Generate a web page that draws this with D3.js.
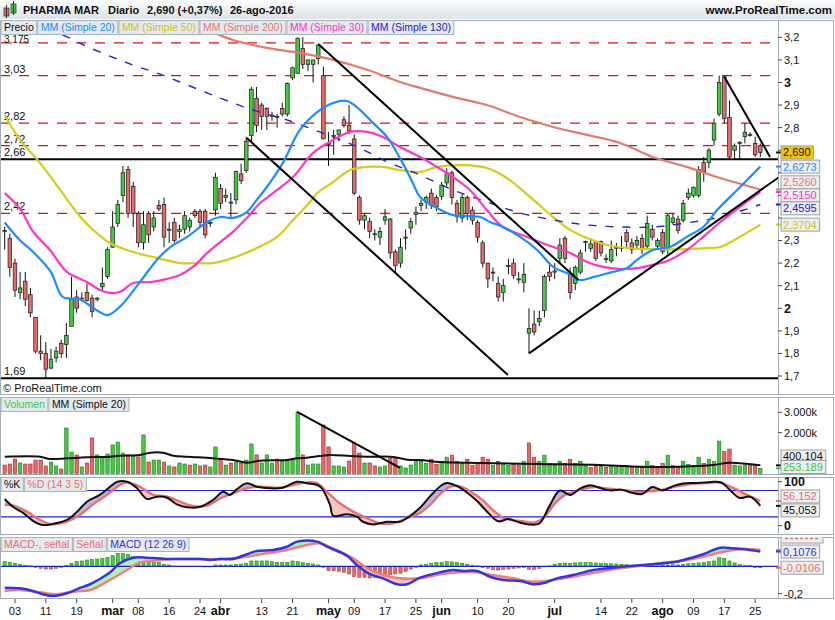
<!DOCTYPE html>
<html>
<head>
<meta charset="utf-8">
<script src="https://cdn.jsdelivr.net/npm/d3@7"></script>
<style>
  body { margin: 0; background: #fff; }
  svg { display: block; font-family: "Liberation Sans", Arial, sans-serif; }
</style>
</head>
<body>
<svg id="chart" width="835" height="620"></svg>
<script>
// ---- Datos (PHARMA MAR, diario, 01-feb-2016 .. 26-ago-2016) ----
const holidays = ["2016-03-25", "2016-03-28"];

const open = [2.345,2.31,2.20,2.07,2.12,2.06,1.96,1.81,1.80,1.735,
  1.78,1.845,1.84,1.92,2.05,2.045,2.07,2.045,2.04,2.095,
  2.14,2.27,2.375,2.50,2.615,2.54,2.42,2.29,2.42,2.36,
  2.455,2.46,2.35,2.38,2.34,2.35,2.36,2.43,2.43,2.43,
  2.38,2.435,2.53,2.49,2.47,2.48,2.595,2.61,2.765,2.93,
  2.90,2.885,2.855,2.85,2.885,2.86,3.02,3.04,3.15,3.08,
  3.08,3.105,3.03,2.73,2.765,2.77,2.835,2.81,2.75,2.49,
  2.39,2.385,2.33,2.315,2.39,2.395,2.25,2.20,2.315,2.355,
  2.415,2.455,2.47,2.51,2.49,2.495,2.555,2.60,2.465,2.40,
  2.49,2.435,2.38,2.29,2.20,2.16,2.11,2.07,2.19,2.20,
  2.13,2.115,1.89,1.93,1.94,1.99,2.16,2.16,2.22,2.31,
  2.155,2.11,2.16,2.295,2.265,2.295,2.295,2.22,2.21,2.27,
  2.27,2.335,2.29,2.28,2.31,2.275,2.35,2.275,2.335,2.26,
  2.38,2.395,2.39,2.49,2.50,2.50,2.645,2.645,2.745,2.86,
  3.025,2.845,2.70,2.73,2.76,2.77,2.73,2.72];
const high = [2.36,2.33,2.22,2.16,2.16,2.09,1.96,1.88,1.85,1.82,
  1.83,1.86,1.935,2.14,2.08,2.07,2.11,2.06,2.05,2.18,
  2.27,2.43,2.48,2.63,2.63,2.56,2.43,2.43,2.43,2.43,
  2.48,2.49,2.38,2.40,2.37,2.43,2.40,2.44,2.44,2.44,
  2.39,2.60,2.55,2.53,2.51,2.61,2.64,2.76,2.98,2.98,
  2.91,2.89,2.87,2.86,2.91,3.00,3.07,3.20,3.20,3.10,
  3.10,3.17,3.07,2.78,2.79,2.79,2.85,2.90,2.77,2.50,
  2.42,2.40,2.35,2.36,2.44,2.40,2.26,2.31,2.35,2.40,
  2.45,2.48,2.50,2.53,2.50,2.56,2.62,2.61,2.48,2.51,
  2.50,2.45,2.39,2.30,2.20,2.18,2.14,2.13,2.22,2.22,
  2.16,2.20,2.00,1.99,1.99,2.15,2.19,2.20,2.31,2.32,
  2.18,2.19,2.26,2.30,2.31,2.30,2.30,2.24,2.30,2.29,
  2.32,2.35,2.31,2.32,2.33,2.41,2.37,2.31,2.35,2.42,
  2.42,2.41,2.48,2.53,2.54,2.63,2.67,2.71,2.84,3.03,
  3.03,2.92,2.73,2.74,2.82,2.78,2.76,2.73];
const low = [2.26,2.14,2.05,2.04,2.01,1.96,1.80,1.77,1.69,1.73,
  1.76,1.78,1.78,1.92,1.98,2.03,2.03,1.96,2.03,2.08,
  2.13,2.27,2.36,2.47,2.40,2.36,2.27,2.26,2.29,2.34,
  2.43,2.27,2.29,2.29,2.31,2.33,2.34,2.40,2.36,2.31,
  2.36,2.41,2.44,2.47,2.40,2.46,2.55,2.60,2.74,2.78,
  2.79,2.79,2.83,2.80,2.85,2.85,3.01,3.04,3.06,3.05,
  3.00,3.08,2.75,2.63,2.68,2.74,2.80,2.77,2.50,2.37,
  2.35,2.31,2.30,2.28,2.37,2.22,2.16,2.18,2.26,2.33,
  2.37,2.43,2.44,2.44,2.43,2.48,2.54,2.46,2.38,2.38,
  2.39,2.37,2.29,2.18,2.09,2.12,2.03,2.03,2.15,2.13,
  2.11,2.07,1.80,1.88,1.92,1.96,2.12,2.13,2.20,2.20,
  2.04,2.08,2.15,2.25,2.25,2.21,2.23,2.20,2.20,2.23,
  2.25,2.27,2.24,2.26,2.24,2.26,2.30,2.26,2.24,2.24,
  2.37,2.33,2.38,2.48,2.49,2.49,2.56,2.62,2.72,2.85,
  2.82,2.66,2.66,2.66,2.73,2.76,2.67,2.67];
const close = [2.34,2.18,2.08,2.09,2.04,1.98,1.81,1.80,1.73,1.775,
  1.81,1.80,1.88,2.04,2.00,2.04,2.035,1.985,2.045,2.11,
  2.26,2.36,2.46,2.60,2.42,2.42,2.29,2.37,2.325,2.40,
  2.44,2.315,2.35,2.30,2.35,2.41,2.39,2.41,2.38,2.325,
  2.38,2.58,2.465,2.50,2.47,2.605,2.565,2.74,2.97,2.81,
  2.85,2.85,2.855,2.847,2.86,2.995,3.065,3.195,3.08,3.10,
  3.10,3.165,2.75,2.73,2.765,2.79,2.81,2.785,2.51,2.39,
  2.41,2.34,2.33,2.34,2.405,2.245,2.19,2.27,2.315,2.385,
  2.425,2.465,2.49,2.455,2.45,2.545,2.60,2.49,2.405,2.49,
  2.42,2.39,2.315,2.20,2.13,2.16,2.05,2.10,2.185,2.145,
  2.13,2.15,1.91,1.895,1.955,2.14,2.14,2.165,2.28,2.22,
  2.07,2.18,2.245,2.295,2.285,2.22,2.245,2.22,2.26,2.27,
  2.27,2.295,2.26,2.30,2.26,2.375,2.315,2.30,2.25,2.41,
  2.40,2.345,2.465,2.51,2.535,2.615,2.605,2.70,2.82,3.00,
  2.84,2.67,2.72,2.735,2.78,2.77,2.68,2.69];
// volumen en miles
const volume = [415,465,710,515,465,465,660,660,370,560,
  370,220,2230,1050,910,320,515,1740,910,810,
  955,1400,1540,1000,910,860,810,1890,560,660,
  660,560,370,320,515,465,415,465,370,415,
  320,1300,710,415,515,560,515,660,1450,910,
  515,910,515,710,610,660,660,3010,910,415,
  465,465,2380,1300,370,370,320,610,1500,1000,
  515,515,370,320,370,760,810,370,270,415,
  610,600,500,700,450,600,800,900,600,500,
  700,400,500,800,700,400,600,500,400,500,
  400,600,1500,800,600,900,500,400,600,500,
  700,500,600,400,300,400,350,300,400,300,
  350,400,300,300,350,600,400,300,500,900,
  400,350,600,450,400,800,500,700,580,1590,
  1070,1200,415,370,415,415,415,253.189];
const macdHist = [0.034,0.029,0.022,0.015,0.008,0.003,-0.008,-0.015,-0.02,-0.02,
  -0.015,-0.008,0.005,0.022,0.034,0.039,0.046,0.05,0.053,0.058,
  0.066,0.078,0.095,0.095,0.088,0.07,0.058,0.053,0.046,0.039,
  0.029,0.015,0.01,0.002,0.001,0.001,0.001,0.001,0.001,-0.005,
  -0.005,0.01,0.01,0.01,0.01,0.015,0.017,0.022,0.039,0.039,
  0.039,0.039,0.034,0.029,0.027,0.029,0.039,0.034,0.027,0.022,
  0.017,0.01,-0.008,-0.032,-0.032,-0.037,-0.044,-0.056,-0.075,-0.08,
  -0.08,-0.085,-0.08,-0.075,-0.061,-0.061,-0.056,-0.051,-0.037,-0.02,
  -0.008,0.01,0.015,0.02,0.027,0.029,0.034,0.032,0.027,0.022,
  0.015,0.008,0.003,-0.01,-0.015,-0.025,-0.027,-0.022,-0.02,-0.015,
  -0.012,-0.01,-0.022,-0.025,-0.015,-0.005,0.003,0.015,0.022,0.024,
  0.022,0.025,0.027,0.029,0.027,0.024,0.022,0.02,0.018,0.017,
  0.015,0.012,0.008,0.004,0.002,0.005,0.005,0.003,0.005,0.01,
  0.012,0.01,0.015,0.018,0.022,0.025,0.027,0.034,0.039,0.063,
  0.058,0.039,0.025,0.012,0.005,0.005,-0.01,-0.0106];

// medias móviles: [índice de sesión, valor]
const ma20 = [[0,2.38],[3,2.30],[5.5,2.25],[9,2.16],[11.3,2.05],[14.6,2.04],[17.3,2.0],[20,1.97],[22.4,2.006],
  [26.3,2.116],[29.6,2.214],[32.2,2.271],[35.5,2.316],[39.4,2.382],[41.9,2.404],[44.4,2.40],[47.1,2.426],
  [49,2.479],[51,2.537],[54.1,2.643],[57.4,2.789],[60.8,2.869],[63.9,2.909],[66.6,2.918],[68.5,2.891],
  [71.7,2.82],[74.4,2.758],[76.9,2.665],[79.4,2.555],[80.8,2.493],[84.1,2.444],[87.2,2.413],[92.5,2.404],
  [94.4,2.382],[97,2.36],[100.3,2.316],[103.6,2.258],[106.7,2.183],[109.4,2.156],[111.9,2.125],[114.5,2.138],
  [118.3,2.161],[121.1,2.178],[123,2.214],[126.1,2.258],[129.4,2.271],[132.7,2.316],[135.9,2.36],
  [138.6,2.435],[142.5,2.524],[147,2.6273]];
const ma30 = [[0,2.51],[3,2.44],[5.5,2.34],[8.8,2.258],[12.1,2.161],[16,2.116],[18.5,2.081],[20.5,2.068],
  [22.4,2.072],[25,2.112],[28.3,2.116],[31.6,2.13],[34.1,2.147],[36.6,2.183],[39.4,2.245],[41.9,2.293],
  [44.4,2.338],[47.1,2.40],[49.7,2.466],[52.2,2.51],[56.1,2.581],[60,2.688],[63.9,2.745],[67.2,2.781],
  [70.5,2.781],[73.6,2.758],[76.9,2.714],[80.8,2.67],[84.1,2.626],[87.2,2.581],[90.5,2.524],[93.8,2.435],
  [96.9,2.36],[101.6,2.316],[106.7,2.271],[110,2.245],[113.3,2.205],[116.4,2.183],[119.7,2.174],
  [123,2.178],[126.1,2.192],[129.4,2.214],[132.7,2.258],[135.9,2.316],[139.2,2.382],[143,2.448],[147,2.515]];
const ma50 = [[0,2.856],[3,2.745],[6.9,2.643],[10.8,2.524],[14.1,2.422],[16.6,2.36],[20.5,2.289],[25,2.249],
  [29.6,2.223],[34.1,2.20],[38,2.20],[40.5,2.20],[44.4,2.223],[49.1,2.267],[53,2.316],[56.1,2.391],
  [59.4,2.471],[60.8,2.51],[63.9,2.559],[67.2,2.612],[70.5,2.626],[73.6,2.626],[76.9,2.612],[80.8,2.603],
  [84.1,2.626],[89.2,2.634],[93.8,2.621],[97.7,2.577],[102.2,2.493],[106.7,2.404],[110,2.347],[113.3,2.311],
  [117.2,2.28],[121.1,2.267],[126.1,2.262],[132.7,2.262],[137.2,2.267],[139.2,2.271],[143,2.316],[147,2.3704]];
const ma200 = [[10,3.36],[25,3.29],[40.5,3.219],[44.4,3.188],[51,3.153],[57.4,3.131],[63.9,3.10],[70.5,3.056],
  [76.9,3.002],[80.8,2.976],[87.2,2.936],[93.8,2.90],[100.3,2.847],[106.7,2.803],[113.3,2.768],[119.7,2.732],
  [126.1,2.67],[132.7,2.626],[139.2,2.577],[147,2.526]];
const ma130 = [[5,3.26],[11.3,3.21],[16.6,3.153],[25,3.077],[29.6,3.042],[34.1,3.002],[41.3,2.936],[48.3,2.878],
  [54.9,2.834],[63.9,2.758],[69.1,2.71],[73.6,2.657],[80.8,2.59],[87.2,2.524],[93.8,2.471],[100.3,2.422],
  [106.7,2.391],[113.3,2.369],[119.7,2.36],[126.1,2.36],[132.7,2.378],[139.2,2.404],[147,2.4595]];
const volMA = [[0,823],[6.9,823],[8.8,710],[12.1,745],[16,795],[20.5,823],[22.4,873],[26.3,907],[28.3,1020],
  [30.8,1020],[32.8,873],[35.5,823],[40.5,745],[44.4,662],[47.1,530],[49.7,627],[54.9,662],[56.9,745],
  [58.8,775],[61.3,858],[63.3,907],[67.2,858],[70.5,823],[75,823],[76.9,745],[78.9,662],[80.8,662],
  [84.7,560],[92.5,515],[104.1,465],[115.8,415],[125.5,320],[131.4,333],[137.8,417],[141.1,530],[147,400.104]];

// estocástico %K / %D (14 3 5)
const stochK = [[0,60.7],[1.6,43],[3.6,29],[5.5,11],[7.4,1.6],[9.4,4],[12.1,13],[14.1,32],[16,54.5],[18.5,70],
  [20.5,88.6],[21.9,100],[23.8,100],[25.7,85.7],[27.7,60.7],[29.6,66],[31.6,63.6],[33.5,48.6],[35.5,41.8],
  [38,43],[40.5,58.4],[42.5,77],[43.8,70],[45.2,83.4],[47.1,96.4],[49.1,88.6],[51.6,85],[54.1,86.4],
  [56.9,100],[58.8,96.4],[60.8,92.5],[61.7,85],[63.3,47],[63.9,22.7],[66.6,26],[68.5,20.5],[69.7,9],
  [71.7,3],[74.4,9],[76.9,9],[78.9,22.7],[80.8,41],[83,70],[85,92],[86,97],[88,90],[90,75],[92,55],
  [94,30],[96,10],[98,15],[100,8],[102,3],[104,5],[106,45],[108,80],[110,70],[112,85],[114,92],[116,85],
  [118,80],[120,82],[122,75],[124,72],[126,88],[128,80],[130,90],[132,96],[134,97],[136,98],[138,100],
  [139.5,98],[141,82],[143,63],[145,66],[147,45.053]];
const stochD = [[0,47],[1.6,46],[4.3,32],[6.9,13],[9.4,3],[12.1,9],[14.6,24],[17.2,48.6],[19.9,70],[22.4,92.5],
  [23.8,98.6],[26.3,88.6],[28.9,70],[31.6,66],[34.1,54.5],[36.6,44.8],[39.4,45.5],[41.9,62],[44.4,73.6],
  [47.1,85],[49.7,88.6],[53.6,86.4],[56.1,92.5],[58.8,98.6],[60.8,96.4],[62.7,77],[65.2,51],[67.8,32],
  [70.5,17],[73,5.5],[75.5,5.5],[78.3,17],[80.8,29],[83,50],[85,75],[87,90],[89,88],[91,75],[93,58],
  [95,35],[97,18],[99,12],[101,10],[103,7],[105,20],[107,50],[109,70],[111,78],[113,85],[115,88],[117,85],
  [119,82],[121,80],[123,77],[125,78],[127,80],[129,85],[131,90],[133,94],[135,96],[137,97],[139,98],
  [141.7,86],[144.4,70],[147,56.152]];

// MACD (12 26 9) y señal
const macdLine = [[0,-0.156],[3,-0.161],[5.5,-0.18],[7.4,-0.204],[9.4,-0.217],[12.1,-0.197],[14.1,-0.166],
  [16.6,-0.131],[18.5,-0.093],[20.5,-0.044],[22.4,0.022],[25,0.063],[27.7,0.063],[29.6,0.058],[31.6,0.053],
  [34.1,0.053],[38,0.053],[40,0.046],[41.9,0.053],[44.4,0.053],[47.1,0.088],[49.1,0.112],[52.2,0.119],
  [54.9,0.143],[56.9,0.18],[60.8,0.18],[62.7,0.143],[66.6,0.077],[68.5,0.009],[71.1,-0.058],[73.6,-0.088],
  [76.3,-0.131],[78.3,-0.131],[80.8,-0.083],[84.7,-0.044],[87.2,-0.027],[89.2,-0.034],[91.9,-0.034],
  [94.4,-0.076],[97,-0.1],[100.3,-0.107],[102.8,-0.131],[104.7,-0.124],[107.4,-0.088],[110.6,-0.064],
  [114.5,-0.027],[118.3,-0.01],[122.2,0.004],[126.1,0.015],[130,0.029],[132.7,0.053],[135.9,0.088],
  [139.2,0.136],[141.7,0.131],[143.6,0.126],[147,0.1076]];
const macdSignal = [[0,-0.18],[3,-0.173],[6.9,-0.19],[10.2,-0.204],[13.3,-0.185],[16.6,-0.173],[19.9,-0.112],
  [23.8,-0.027],[26.3,0.029],[28.9,0.039],[32.7,0.053],[38,0.053],[41.9,0.053],[47.1,0.07],[51,0.095],
  [54.9,0.119],[58.8,0.155],[61.3,0.168],[63.9,0.131],[67.8,0.058],[70.5,-0.015],[73.6,-0.064],[76.9,-0.088],
  [80.8,-0.088],[84.7,-0.058],[88.6,-0.044],[91.9,-0.044],[95,-0.064],[98.9,-0.088],[102.8,-0.112],
  [106.7,-0.1],[110.6,-0.076],[115.2,-0.044],[119.7,-0.015],[123.6,0.004],[127.5,0.022],[132.7,0.046],
  [136.6,0.077],[140.5,0.112],[144.4,0.126],[147,0.1182]];

// líneas del análisis
const levelsDashed = [3.175, 3.03, 2.82, 2.72, 2.42];
const levelsSolid = [2.66, 1.69];
const trendLines = [
  [[61, 3.17], [111.6, 2.125]],
  [[47.1, 2.754], [97.9, 1.704]],
  [[102, 1.80], [150.6, 2.58]],
  [[140, 3.025], [148.9, 2.67]]
];
const volTrend = [[56.9, 3015], [76.9, 270]];

const tickDays = ["2016-02-03","2016-02-11","2016-02-19","2016-03-01","2016-03-08","2016-03-16","2016-03-24",
  "2016-04-01","2016-04-13","2016-04-21","2016-05-02","2016-05-09","2016-05-17","2016-05-25","2016-06-01",
  "2016-06-10","2016-06-20","2016-07-01","2016-07-14","2016-07-22","2016-08-01","2016-08-09","2016-08-17","2016-08-25"];
const tickLabels = ["03","11","19","mar","08","16","24","abr","13","21","may","09","17","25","jun",
  "10","20","jul","14","22","ago","09","17","25"];

// ---- sesiones de bolsa ----
const fmtDay = d3.timeFormat("%Y-%m-%d");
const days = [];
for (let d = new Date(2016, 1, 1); d <= new Date(2016, 7, 26); d.setDate(d.getDate() + 1)) {
  const k = fmtDay(d);
  if (d.getDay() !== 0 && d.getDay() !== 6 && !holidays.includes(k)) days.push(k);
}
const bars = days.map((k, i) => ({ i, day: k, o: open[i], h: high[i], l: low[i], c: close[i], v: volume[i], hist: macdHist[i] }));

// ---- Dibujo ----
const svg = d3.select("#chart");
const W = 835, plotR = 778;
const P = { main: [20, 395], vol: [397, 475], sto: [477, 535], macd: [537, 599] };
const num = (v, d) => v.toFixed(d).replace(".", ",");

const x = d3.scaleLinear().domain([0, 147]).range([4.7, 760.3]);
const yP = d3.scaleLinear().domain([1.7, 3.2]).range([376, 37.3]);
const yV = d3.scaleLinear().domain([0, 3000]).range([473.5, 412.3]);
const yS = d3.scaleLinear().domain([0, 100]).range([525.7, 481.7]);
const yM = d3.scaleLinear().domain([-0.2, 0]).range([593.7, 566.3]);

const GREEN = "#46c846", RED = "#e26a6a";
const defs = svg.append("defs");
const grad = defs.append("linearGradient").attr("id", "hdr").attr("x1", 0).attr("y1", 0).attr("x2", 0).attr("y2", 1);
grad.append("stop").attr("offset", 0).attr("stop-color", "#fbfcfd");
grad.append("stop").attr("offset", 1).attr("stop-color", "#dde2e6");
Object.entries(P).forEach(([k, [t, b]]) => {
  defs.append("clipPath").attr("id", "clip-" + k).append("rect").attr("x", 1).attr("y", t).attr("width", plotR - 1).attr("height", b - t);
  defs.append("clipPath").attr("id", "tag-" + k).append("rect").attr("x", plotR - 4).attr("y", t).attr("width", W - plotR + 4).attr("height", b - t);
});

// cabecera
svg.append("rect").attr("x", 0).attr("y", 0).attr("width", W).attr("height", 19).attr("fill", "url(#hdr)");
svg.append("rect").attr("x", 4).attr("y", 8).attr("width", 5).attr("height", 8).attr("fill", RED).attr("stroke", "#333").attr("stroke-width", 0.7);
svg.append("line").attr("x1", 6.5).attr("x2", 6.5).attr("y1", 5).attr("y2", 18).attr("stroke", "#333");
svg.append("rect").attr("x", 11).attr("y", 4).attr("width", 5).attr("height", 9).attr("fill", GREEN).attr("stroke", "#333").attr("stroke-width", 0.7);
svg.append("line").attr("x1", 13.5).attr("x2", 13.5).attr("y1", 1).attr("y2", 15).attr("stroke", "#333");
const hdrText = [["PHARMA MAR", 23], ["Diario", 108], [num(close[147], 3) + " (+0,37%)", 147], ["26-ago-2016", 230]];
svg.selectAll("text.hdr").data(hdrText).enter().append("text").attr("class", "hdr")
  .attr("x", d => d[1]).attr("y", 14).attr("font-size", "11px").attr("font-weight", "bold").attr("fill", "#111").text(d => d[0]);
svg.append("text").attr("x", 832).attr("y", 14).attr("text-anchor", "end").attr("font-size", "11.5px")
  .attr("font-weight", "bold").attr("fill", "#111").text("www.ProRealTime.com");

// marcos de paneles
Object.values(P).forEach(([t, b]) => {
  svg.append("rect").attr("x", 0.5).attr("y", t + 0.5).attr("width", W - 2).attr("height", b - t - 1)
    .attr("fill", "#fff").attr("stroke", "#a3acb4");
  svg.append("line").attr("x1", plotR + 0.5).attr("x2", plotR + 0.5).attr("y1", t).attr("y2", b).attr("stroke", "#a3acb4");
});

// ---------- panel principal ----------
const gMain = svg.append("g").attr("clip-path", "url(#clip-main)");
gMain.selectAll("line.lvl").data(levelsDashed).enter().append("line")
  .attr("x1", 0).attr("x2", plotR).attr("y1", d => yP(d)).attr("y2", d => yP(d))
  .attr("stroke", "#dd1010").attr("stroke-width", 1.2).attr("stroke-dasharray", "10,9");
gMain.selectAll("line.sol").data(levelsSolid).enter().append("line")
  .attr("x1", 0).attr("x2", plotR).attr("y1", d => yP(d)).attr("y2", d => yP(d))
  .attr("stroke", "#000").attr("stroke-width", 2.2);
gMain.selectAll("text.lvl").data(levelsDashed.concat(levelsSolid)).enter().append("text")
  .attr("x", 4).attr("y", d => Math.max(yP(d) - 3, 43)).attr("font-size", d => yP(d) < 50 ? "10px" : "11px").attr("fill", "#111")
  .text(d => num(d, d.toString().split(".")[1].length));

// velas
const cw = 3.6;
gMain.selectAll("line.wick").data(bars).enter().append("line")
  .attr("x1", d => x(d.i)).attr("x2", d => x(d.i)).attr("y1", d => yP(d.h)).attr("y2", d => yP(d.l))
  .attr("stroke", "#111").attr("stroke-width", 1);
gMain.selectAll("rect.body").data(bars).enter().append("rect")
  .attr("x", d => x(d.i) - cw / 2).attr("width", cw)
  .attr("y", d => yP(Math.max(d.o, d.c)))
  .attr("height", d => Math.max(1, Math.abs(yP(d.o) - yP(d.c))))
  .attr("fill", d => d.c >= d.o ? GREEN : RED).attr("stroke", "#1c1c1c").attr("stroke-width", 0.7);

const lineXY = (ys) => d3.line().x(d => x(d[0])).y(d => ys(d[1])).curve(d3.curveCatmullRom.alpha(0.5));
const maStyles = [[ma200, "#e27a72", 2.2, null], [ma50, "#d6cc1c", 2.2, null], [ma130, "#2424c8", 1.4, "8,9"],
  [ma30, "#ff35c8", 2.2, null], [ma20, "#1e8cff", 2.2, null]];
maStyles.forEach(([pts, col, w, dash]) => {
  gMain.append("path").attr("d", lineXY(yP)(pts)).attr("fill", "none").attr("stroke", col)
    .attr("stroke-width", w).attr("stroke-dasharray", dash);
});
trendLines.forEach(seg => {
  gMain.append("path").attr("d", d3.line().x(d => x(d[0])).y(d => yP(d[1]))(seg))
    .attr("stroke", "#000").attr("stroke-width", 2).attr("fill", "none");
});
svg.append("text").attr("x", 3).attr("y", 392).attr("font-size", "11px").attr("fill", "#111").text("© ProRealTime.com");

// ---------- volumen ----------
const gVol = svg.append("g").attr("clip-path", "url(#clip-vol)");
const upDay = d => d.i === 0 ? d.c >= d.o : d.c >= close[d.i - 1];
gVol.selectAll("rect").data(bars).enter().append("rect")
  .attr("x", d => x(d.i) - 1.7).attr("width", 3.4)
  .attr("y", d => yV(d.v)).attr("height", d => yV(0) - yV(d.v))
  .attr("fill", d => upDay(d) ? GREEN : RED).attr("stroke", d => upDay(d) ? "#1d7a1d" : "#a52a2a").attr("stroke-width", 0.6);
gVol.append("path").attr("d", lineXY(yV)(volMA)).attr("fill", "none").attr("stroke", "#111").attr("stroke-width", 2);
gVol.append("path").attr("d", d3.line().x(d => x(d[0])).y(d => yV(d[1]))(volTrend)).attr("stroke", "#000").attr("stroke-width", 2);

// ---------- relleno entre dos curvas ----------
function band(g, aPts, bPts, ys, top, bot, colUp, colDown, id) {
  const lg = lineXY(ys);
  const bPath = lg(bPts);
  const shape = lg(aPts) + "L" + lg(bPts.slice().reverse()).slice(1) + "Z";
  const x0 = x(bPts[0][0]), x1 = x(bPts[bPts.length - 1][0]);
  defs.append("clipPath").attr("id", id + "u").append("path").attr("d", `M${x0},${top}L${bPath.slice(1)}L${x1},${top}Z`);
  defs.append("clipPath").attr("id", id + "d").append("path").attr("d", `M${x0},${bot}L${bPath.slice(1)}L${x1},${bot}Z`);
  g.append("path").attr("d", shape).attr("fill", colUp).attr("clip-path", `url(#${id}u)`);
  g.append("path").attr("d", shape).attr("fill", colDown).attr("clip-path", `url(#${id}d)`);
}

// ---------- estocástico ----------
const gSto = svg.append("g").attr("clip-path", "url(#clip-sto)");
band(gSto, stochK, stochD, yS, P.sto[0], P.sto[1], "#b9b6e4", "#f6c6c6", "bs");
[80, 20].forEach(v => gSto.append("line").attr("x1", 0).attr("x2", plotR).attr("y1", yS(v)).attr("y2", yS(v)).attr("stroke", "#2222cc").attr("stroke-width", 1.2));
gSto.append("path").attr("d", lineXY(yS)(stochD)).attr("fill", "none").attr("stroke", "#e8706c").attr("stroke-width", 2.3);
gSto.append("path").attr("d", lineXY(yS)(stochK)).attr("fill", "none").attr("stroke", "#111").attr("stroke-width", 2);

// ---------- MACD ----------
const gMacd = svg.append("g").attr("clip-path", "url(#clip-macd)");
gMacd.selectAll("rect").data(bars).enter().append("rect")
  .attr("x", d => x(d.i) - 1.6).attr("width", 3.2)
  .attr("y", d => Math.min(yM(0), yM(d.hist))).attr("height", d => Math.abs(yM(d.hist) - yM(0)))
  .attr("fill", d => d.hist >= 0 ? GREEN : RED).attr("stroke", d => d.hist >= 0 ? "#1d7a1d" : "#a52a2a").attr("stroke-width", 0.5);
band(gMacd, macdLine, macdSignal, yM, P.macd[0], P.macd[1], "#b6f0b2", "#f6c0c0", "bm");
gMacd.append("line").attr("x1", 0).attr("x2", plotR).attr("y1", yM(0)).attr("y2", yM(0)).attr("stroke", "#2222cc").attr("stroke-width", 1.2);
gMacd.append("path").attr("d", lineXY(yM)(macdSignal)).attr("fill", "none").attr("stroke", "#ec8080").attr("stroke-width", 2.5);
gMacd.append("path").attr("d", lineXY(yM)(macdLine)).attr("fill", "none").attr("stroke", "#3434e0").attr("stroke-width", 2.5);

// ---------- leyendas ----------
function legend(y, items) {
  let cx = 1;
  items.forEach(([txt, col]) => {
    const g = svg.append("g");
    const t = g.append("text").attr("x", cx + 3).attr("y", y + 11).attr("font-size", "10.5px").attr("fill", col).text(txt);
    const w = t.node().getComputedTextLength() + 6;
    g.insert("rect", "text").attr("x", cx).attr("y", y + 0.5).attr("width", w).attr("height", 14)
      .attr("fill", "#e4e9ed").attr("stroke", "#aab3ba");
    cx += w + 1;
  });
}
legend(20, [["Precio", "#111"], ["MM (Simple 20)", "#1e8cff"], ["MM (Simple 50)", "#cfc51c"],
  ["MM (Simple 200)", "#e27a72"], ["MM (Simple 30)", "#ff35c8"], ["MM (Simple 130)", "#2424c8"]]);
legend(397, [["Volumen", "#3cc83c"], ["MM (Simple 20)", "#111"]]);
legend(477, [["%K", "#111"], ["%D (14 3 5)", "#e8706c"]]);
legend(537, [["MACD-, señal", "#e8706c"], ["Señal", "#e8706c"], ["MACD (12 26 9)", "#3434e0"]]);

// ---------- etiquetas de último valor (se colocan primero para ocultar las del eje) ----------
const axisG = svg.append("g");
const blocked = [];
function tags(panel, list, gap, stackUp) {
  list.forEach(t => { t.ty = t.y; });
  list.sort((a, b) => a.y - b.y);
  if (!stackUp) {
    for (let k = 0; k < 200; k++) {
      for (let j = 1; j < list.length; j++) {
        const d = list[j].ty - list[j - 1].ty;
        if (d < gap) { list[j].ty += (gap - d) / 2; list[j - 1].ty -= (gap - d) / 2; }
      }
    }
  }
  const bot = P[panel][1] - 8;
  for (let j = list.length - 1; j >= 0; j--) {
    const lim = j === list.length - 1 ? bot : list[j + 1].ty - gap;
    list[j].ty = Math.min(list[j].ty, lim);
  }
  const g = svg.append("g").attr("clip-path", `url(#tag-${panel})`);
  list.forEach(t => {
    blocked.push([t.ty - 8, t.ty + 8]);
    g.append("line").attr("x1", plotR - 2).attr("x2", plotR + 3).attr("y1", t.y).attr("y2", t.y).attr("stroke", t.col).attr("stroke-width", 2);
    const hidden = t.ty - 4 < P[panel][0];   // etiqueta casi tapada por el borde del panel
    const tx = g.append("text").attr("x", plotR + 5).attr("y", t.ty).attr("dy", "0.36em").attr("font-size", "11px").attr("fill", t.col).text(hidden ? "" : t.text);
    const w = hidden ? 42 : tx.node().getComputedTextLength() + 5;
    g.insert("rect", "text:last-of-type").attr("x", plotR + 3).attr("y", t.ty - 6.5).attr("width", w).attr("height", 13)
      .attr("fill", t.bg || "#eeeeee").attr("stroke", "#9aa2a8");
    if (hidden) g.append("line").attr("x1", plotR + 7).attr("x2", plotR + 41).attr("y1", P[panel][0] + 1.5).attr("y2", P[panel][0] + 1.5)
      .attr("stroke", t.col).attr("stroke-width", 1.5).attr("stroke-dasharray", "3,2");
    tx.raise();
  });
}
const last = a => a[a.length - 1][1];
tags("main", [
  { y: yP(close[147]), text: num(close[147], 3), col: "#111", bg: "#f5c400" },
  { y: yP(last(ma20)), text: num(last(ma20), 4), col: "#1e8cff" },
  { y: yP(last(ma200)), text: num(last(ma200), 4), col: "#e27a72" },
  { y: yP(last(ma30)), text: num(last(ma30), 4), col: "#ff35c8" },
  { y: yP(last(ma130)), text: num(last(ma130), 4), col: "#2424c8" },
  { y: yP(last(ma50)), text: num(last(ma50), 4), col: "#cfc51c" }
], 13);
tags("vol", [
  { y: yV(last(volMA)), text: num(last(volMA), 3).replace(",", "."), col: "#111" },
  { y: yV(volume[147]), text: num(volume[147], 3).replace(",", "."), col: "#3cc83c" }
], 10.5, true);
tags("sto", [
  { y: yS(last(stochD)), text: num(last(stochD), 3), col: "#e8706c" },
  { y: yS(last(stochK)), text: num(last(stochK), 3), col: "#111" }
], 14);
tags("macd", [
  { y: yM(last(macdSignal)), text: num(last(macdSignal), 4), col: "#e8706c" },
  { y: yM(last(macdLine)), text: num(last(macdLine), 4), col: "#3434e0" },
  { y: yM(macdHist[147]), text: num(macdHist[147], 4), col: "#e8706c" }
], 15, true);

// ---------- ejes a la derecha ----------
function rightAxis(ys, ticks, fmt, boldTest) {
  ticks.forEach(v => {
    const yy = ys(v);
    axisG.append("line").attr("x1", plotR).attr("x2", plotR + 4).attr("y1", yy).attr("y2", yy).attr("stroke", "#444");
    if (blocked.some(([a, b]) => yy > a - 2 && yy < b + 2)) return;
    axisG.append("text").attr("x", plotR + 6).attr("y", yy).attr("dy", "0.36em")
      .attr("font-size", boldTest(v) ? "12.5px" : "11px").attr("font-weight", boldTest(v) ? "bold" : "normal")
      .attr("fill", "#111").text(fmt(v));
  });
}
rightAxis(yP, d3.range(17, 33).map(v => v / 10), v => num(v, Number.isInteger(v) ? 0 : 1), v => Number.isInteger(v));
rightAxis(yV, [2000, 3000], v => d3.format(",")(v).replace(",", ".") + "k", () => false);
rightAxis(yS, [0, 100], v => v, () => true);
rightAxis(yM, [-0.2], v => num(v, 1), () => false);

// ---------- eje de fechas ----------
const ticks = tickDays.map((k, j) => ({ i: days.indexOf(k), label: tickLabels[j] }));
svg.selectAll("line.xt").data(ticks).enter().append("line")
  .attr("x1", d => x(d.i)).attr("x2", d => x(d.i)).attr("y1", 599).attr("y2", 603).attr("stroke", "#444");
svg.selectAll("text.xt").data(ticks).enter().append("text")
  .attr("x", d => x(d.i)).attr("y", 615).attr("text-anchor", "middle")
  .attr("font-size", d => isNaN(+d.label) ? "12.5px" : "11px")
  .attr("font-weight", d => isNaN(+d.label) ? "bold" : "normal")
  .attr("fill", "#111").text(d => d.label);
</script>
</body>
</html>
